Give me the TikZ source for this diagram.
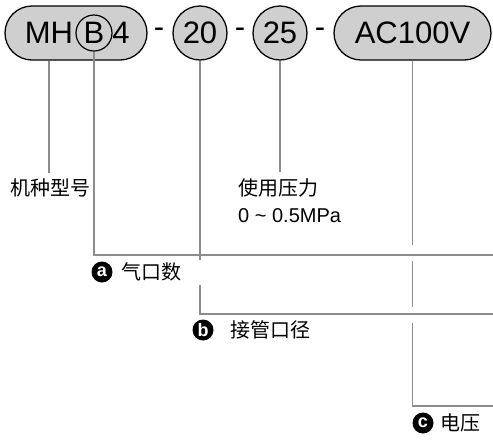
\documentclass[tikz,border=0pt]{standalone}
\usepackage{fontspec}
\setmainfont{Liberation Sans}
\newfontfamily\cjk{Noto Sans CJK SC}
\usetikzlibrary{positioning}

\definecolor{leadgray}{HTML}{8C8C8C}
\definecolor{partgray}{HTML}{CFCFCF}

\tikzset{
  part/.style={draw=black, line width=1.3pt, fill=partgray, inner sep=0pt,
    font=\fontsize{31}{31}\selectfont},
  pill/.style={part, rectangle, rounded corners=27pt, minimum height=54pt},
  disc/.style={part, circle, minimum size=54pt},
  lead/.style={leadgray, line width=1.5pt},
  note/.style={inner sep=0pt, font=\fontsize{20}{27}\selectfont},
  badge/.style={circle, fill=black, text=white, inner sep=0pt, minimum size=21pt,
    font=\fontsize{18}{18}\selectfont\bfseries},
}

\begin{document}
\begin{tikzpicture}[x=1pt, y=-1pt]
  \useasboundingbox (0,0) rectangle (493,440);
  % model code
  \node[pill, minimum width=142pt] (mhpill) at (76,33) {};
  \node[inner sep=0pt, font=\fontsize{31}{31}\selectfont] (mhtext) at (49,33) {MH};
  \node[draw=black, circle, line width=1.2pt, minimum size=36pt, inner sep=0pt,
    font=\fontsize{31}{31}\selectfont] (bmark) at (94,33) {B};
  \node[inner sep=0pt, font=\fontsize{31}{31}\selectfont] (four) at (121,33) {4};
  \node[font=\fontsize{31}{31}\selectfont] (dasha) at (159,33) {-};
  \node[disc] (d20) at (200,33) {20};
  \node[font=\fontsize{31}{31}\selectfont] (dashb) at (240,33) {-};
  \node[disc] (d25) at (280,33) {25};
  \node[font=\fontsize{31}{31}\selectfont] (dashc) at (320,33) {-};
  \node[pill, minimum width=157pt] (volt) at (412.5,33) {AC100V};

  % labels
  \node[note] (lblmodel) at (50,188) {\cjk 机种型号};
  \node[note, anchor=north west, align=left] (lblpress) at (238,178)
    {{\cjk 使用压力}\\0 \textasciitilde{} 0.5MPa};
  \foreach \n/\x/\y/\g/\t in {a/102/272/9/气口数, b/203/330/17/接管口径, c/423/423/7/电压} {
    \node[badge] (badge\n) at (\x,\y) {\n};
    \node[note, right=\g pt of badge\n] (lbl\n) {\cjk \t};
  }

  \coordinate (aend) at (493,255);
  \coordinate (bend) at (493,314);
  \coordinate (cend) at (493,406);

  % leads
  \draw[lead, shorten >=6pt] (mhtext.south |- mhpill.south) -- (mhtext.south |- lblmodel.north);
  \draw[lead, shorten >=6pt] (d25.south) -- (d25.south |- lblpress.north);
  \draw[lead] (bmark.south) |- (aend);
  \draw[lead] (d20.south) -- (d20.south |- 0,260);
  \draw[lead] (d20.south |- 0,285) |- (bend);
  \draw[lead] (volt.south) -- (volt.south |- 0,245);
  \draw[lead] (volt.south |- 0,261) -- (volt.south |- 0,307);
  \draw[lead] (volt.south |- 0,323) |- (cend);
\end{tikzpicture}
\end{document}
